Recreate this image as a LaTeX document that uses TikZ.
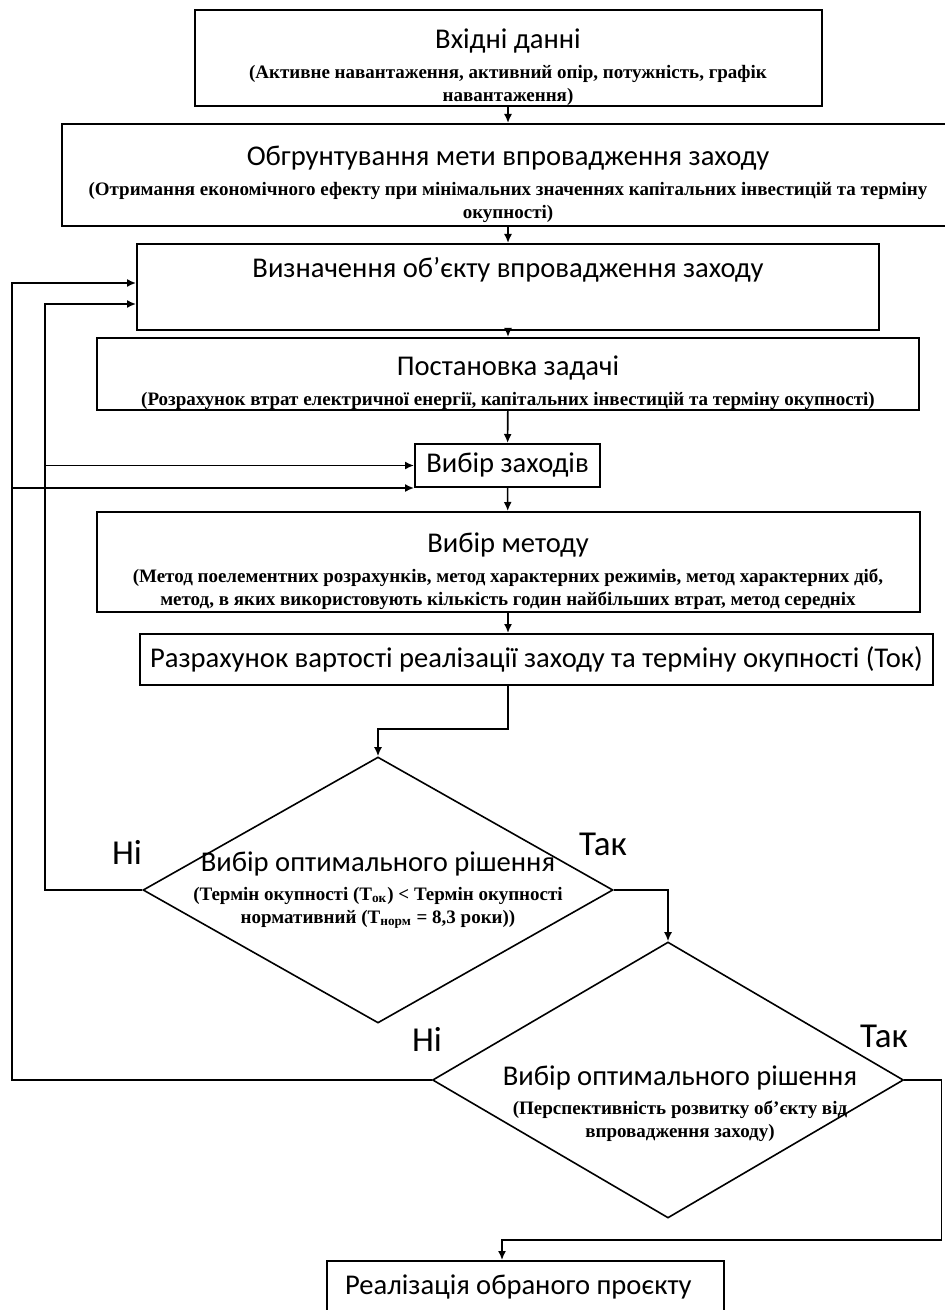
\documentclass[tikz,border=0pt]{standalone}
\usepackage{fontspec}
\setmainfont{Liberation Serif}
\newfontfamily\titlefont{Carlito}
\usetikzlibrary{shapes.geometric,arrows.meta}

\newcommand{\ttl}[1]{{\titlefont\mdseries\fontsize{14.3}{16}\selectfont #1}}
\newcommand{\lift}{\rule{0pt}{19pt}}

\tikzset{
  >={Latex[length=4.5pt,width=4pt]},
  stage/.style={draw, line width=1pt, align=center, inner sep=0pt,
    font=\bfseries\fontsize{9.5}{11.5}\selectfont},
  choice/.style={draw, diamond, line width=0.8pt, inner sep=0pt},
  inside/.style={align=center, inner sep=0pt, font=\bfseries\fontsize{9.5}{11.5}\selectfont},
  link/.style={line width=0.8pt},
  answer/.style={font=\titlefont\fontsize{17.5}{19}\selectfont}
}

\begin{document}
\begin{tikzpicture}[x=0.5pt, y=-0.5pt]
  \clip (0,0) rectangle (945,1310);

  % boxes
  \node[stage, minimum width=313.5pt, minimum height=46pt] (data) at (508,58)
    {\ttl{\lift Вхідні данні}\\[3.5pt](Активне навантаження, активний опір, потужність, графік\\навантаження)};
  \node[stage, minimum width=446pt, minimum height=51pt] (goal) at (508,175)
    {\ttl{\lift Обгрунтування мети впровадження заходу}\\[3.5pt](Отримання економічного ефекту при мінімальних значеннях капітальних інвестицій та терміну\\окупності)};
  \node[stage, minimum width=371pt, minimum height=43pt] (object) at (508,287)
    {\raisebox{8.5pt}[\height][\depth]{\ttl{Визначення об’єкту впровадження заходу}}};
  \node[stage, minimum width=411pt, minimum height=36pt] (task) at (508,374)
    {\ttl{\lift Постановка задачі}\\[3.5pt](Розрахунок втрат електричної енергії, капітальних інвестицій та терміну окупності)};
  \node[stage, minimum width=92.5pt, minimum height=21.5pt] (choose) at (507.5,465.5)
    {\ttl{Вибір заходів}};
  \node[stage, minimum width=411.5pt, minimum height=50pt] (method) at (508,562)
    {\ttl{\lift Вибір методу}\\[3.5pt](Метод поелементних розрахунків, метод характерних режимів, метод характерних діб,\\метод, в яких використовують кількість годин найбільших втрат, метод середніх};
  \node[stage, minimum width=396.5pt, minimum height=25.5pt] (cost) at (536.5,659.5)
    {\ttl{Разрахунок вартості реалізації заходу та терміну окупності (Ток)}};
  \node[stage, text width=180.5pt, align=left, inner xsep=9pt, minimum height=26pt] (result) at (525.5,1287)
    {\ttl{Реалізація обраного проєкту}};

  % decisions
  \node[choice, minimum width=235pt, minimum height=133pt] (check1) at (378,890) {};
  \node[inside] (check1txt) at (check1.center)
    {\ttl{Вибір оптимального рішення}\\[3pt](Термін окупності (Т\textsubscript{ок}) < Термін окупності\\нормативний (Т\textsubscript{норм} = 8,3 роки))};
  \node[choice, minimum width=235.5pt, minimum height=138pt] (check2) at (668,1080) {};
  \node[inside] (check2txt) at (680,1104)
    {\ttl{Вибір оптимального рішення}\\[3pt](Перспективність розвитку об’єкту від\\впровадження заходу)};

  \node[answer] (no1) at (127,852) {Ні};
  \node[answer] (yes1) at (603,844) {Так};
  \node[answer] (no2) at (427,1039) {Ні};
  \node[answer] (yes2) at (884,1036) {Так};

  \coordinate (back1) at (45,304);
  \coordinate (back2) at (12,283);
  \coordinate (turn) at (502,1240);

  % arrows
  \draw[link,->] (data) -- (goal);
  \draw[link,->] (goal) -- (object);
  \draw[link,->] (object) -- (task);
  \draw[link,->] (task) -- (choose);
  \draw[link,->] (choose) -- (method);
  \draw[link,->] (method) -- (method.south |- cost.north);
  \draw[link,->] (method.south |- cost.south) -- ++(0,43) -| (check1.north);
  \draw[link,->] (check1.east) -| (check2.north);
  \draw[link,->] (check2.east) -- ++(37,0) |- (turn) -- (turn |- result.north);
  \draw[link,->] (check1.west) -| (back1) -- (back1 -| object.west);
  \draw[link,->] (back1 |- choose.west) -- (choose.west);
  \draw[link,->] (check2.west) -| (back2) -- (back2 -| object.west);
  \draw[link,->] (back2 |- choose.south west) -- (choose.south west);
\end{tikzpicture}
\end{document}
